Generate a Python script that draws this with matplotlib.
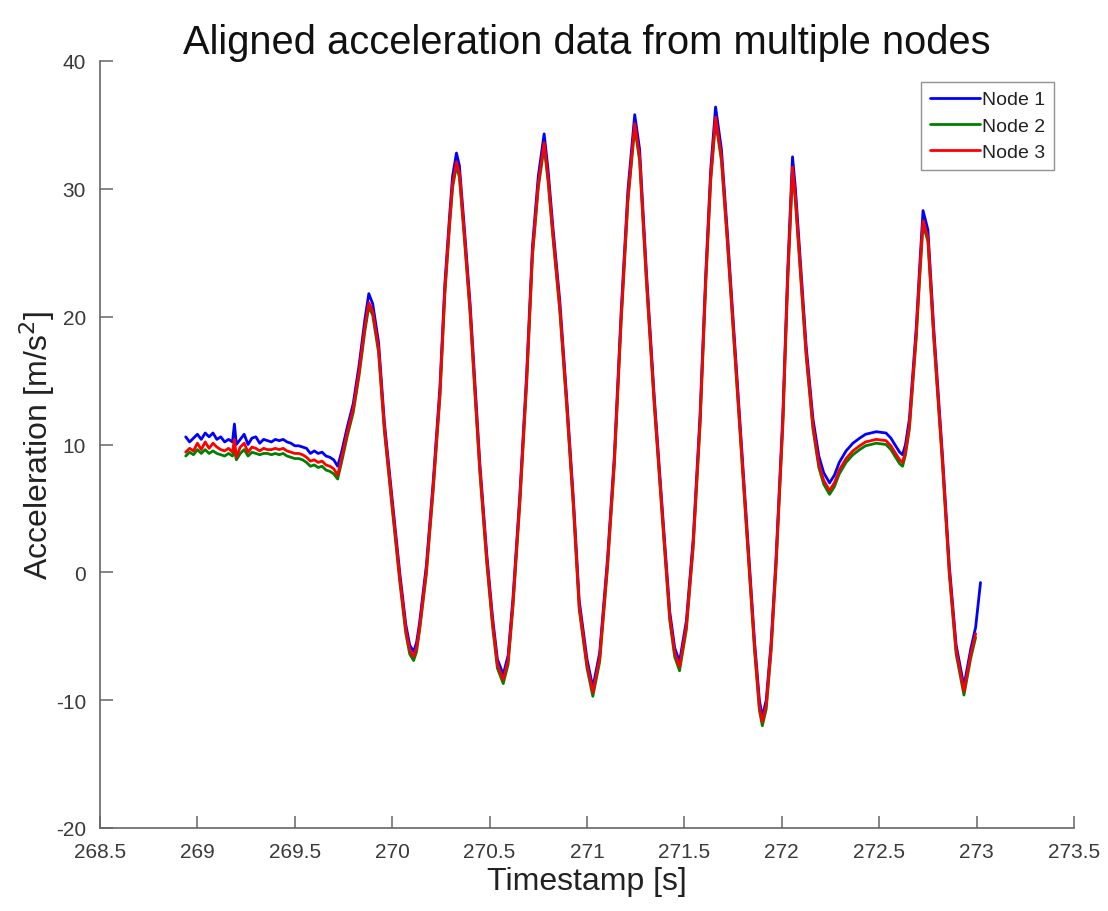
import numpy as np
import matplotlib
matplotlib.use("Agg")
import matplotlib.pyplot as plt

nan = np.nan

timestamp = [
    268.94, 268.96, 268.98, 269.00, 269.02, 269.04, 269.06, 269.08, 269.10, 269.12,
    269.14, 269.16, 269.18, 269.19, 269.20, 269.22, 269.24, 269.26, 269.28, 269.30,
    269.32, 269.34, 269.36, 269.38, 269.40, 269.42, 269.44, 269.46, 269.48, 269.50,
    269.52, 269.54, 269.56, 269.58, 269.60, 269.62, 269.64, 269.66, 269.68, 269.70,
    269.72, 269.74, 269.77, 269.80, 269.83, 269.86, 269.88, 269.90, 269.93, 269.96,
    270.00, 270.04, 270.07, 270.09, 270.11, 270.125, 270.14, 270.175, 270.21, 270.245,
    270.27, 270.295, 270.31, 270.33, 270.345, 270.37, 270.40, 270.425, 270.45, 270.485,
    270.515, 270.54, 270.57, 270.595, 270.62, 270.655, 270.69, 270.72, 270.75, 270.78,
    270.80, 270.825, 270.86, 270.895, 270.93, 270.96, 271.00, 271.03, 271.065, 271.105,
    271.14, 271.175, 271.21, 271.245, 271.27, 271.305, 271.345, 271.39, 271.425, 271.45,
    271.475, 271.51, 271.545, 271.58, 271.61, 271.635, 271.66, 271.69, 271.72, 271.755,
    271.79, 271.825, 271.86, 271.885, 271.90, 271.92, 271.945, 271.97, 272.005, 272.03,
    272.055, 272.07, 272.09, 272.125, 272.16, 272.19, 272.215, 272.245, 272.27, 272.295,
    272.33, 272.365, 272.40, 272.43, 272.485, 272.535, 272.56, 272.58, 272.605, 272.62,
    272.635, 272.655, 272.69, 272.71, 272.725, 272.75, 272.78, 272.825, 272.86, 272.895,
    272.935, 272.97, 272.995, 273.02,
]

node1 = [
    10.6, 10.2, 10.5, 10.8, 10.4, 10.9, 10.6, 10.9, 10.4, 10.6,
    10.2, 10.4, 10.2, 11.6, 10.0, 10.4, 10.8, 10.0, 10.5, 10.6,
    10.1, 10.4, 10.3, 10.2, 10.4, 10.3, 10.4, 10.2, 10.1, 9.9,
    9.9, 9.8, 9.7, 9.3, 9.5, 9.3, 9.4, 9.1, 9.0, 8.8,
    8.3, 9.4, 11.4, 13.2, 16.2, 19.8, 21.8, 21.0, 18.0, 11.7,
    5.7, -0.2, -4.1, -5.7, -6.2, -5.5, -4.0, 0.5, 7.0, 14.5,
    22.5, 28.0, 31.0, 32.8, 31.8, 27.0, 21.0, 14.7, 8.5, 1.5,
    -3.5, -6.8, -8.0, -6.5, -2.0, 6.0, 15.5, 25.5, 31.0, 34.3,
    31.5, 27.0, 21.3, 13.8, 5.8, -2.2, -6.8, -9.0, -6.3, 1.0,
    9.0, 20.3, 29.9, 35.8, 33.1, 23.5, 13.8, 4.2, -3.1, -5.9,
    -7.0, -3.8, 2.6, 12.2, 23.5, 31.5, 36.4, 33.1, 26.7, 18.7,
    10.6, 2.6, -5.4, -10.0, -11.3, -10.0, -5.5, 1.0, 12.2, 23.5,
    32.5, 30.0, 25.5, 17.7, 12.0, 9.1, 7.8, 7.0, 7.6, 8.6,
    9.5, 10.1, 10.5, 10.8, 11.0, 10.9, 10.5, 10.0, 9.4, 9.2,
    10.0, 12.0, 19.1, 24.5, 28.3, 26.8, 19.1, 9.1, 0.5, -5.7,
    -8.9, -6.0, -4.3, -0.8,
]

node2 = [
    9.1, 9.4, 9.2, 9.6, 9.3, 9.6, 9.3, 9.5, 9.3, 9.2,
    9.1, 9.3, 9.1, 9.6, 8.8, 9.3, 9.6, 9.1, 9.4, 9.3,
    9.2, 9.3, 9.3, 9.2, 9.3, 9.2, 9.3, 9.1, 9.0, 8.9,
    8.9, 8.8, 8.6, 8.3, 8.4, 8.2, 8.3, 8.0, 7.9, 7.7,
    7.3, 8.6, 10.7, 12.5, 15.4, 18.9, 20.8, 20.1, 17.2, 11.0,
    5.0, -0.9, -4.8, -6.4, -6.9, -6.2, -4.6, -0.2, 6.3, 13.7,
    21.7, 27.2, 30.1, 31.8, 30.9, 26.2, 20.2, 13.9, 7.8, 0.8,
    -4.2, -7.5, -8.7, -7.2, -2.7, 5.3, 14.7, 24.7, 30.1, 33.3,
    30.6, 26.2, 20.5, 13.1, 5.1, -2.9, -7.5, -9.7, -7.0, 0.3,
    8.3, 19.5, 29.0, 34.8, 32.2, 22.7, 13.1, 3.5, -3.8, -6.6,
    -7.7, -4.5, 1.9, 11.4, 22.7, 30.6, 35.3, 32.2, 25.9, 17.9,
    9.9, 1.9, -6.1, -10.8, -12.0, -10.7, -6.2, 0.3, 11.4, 22.6,
    31.4, 29.0, 24.6, 16.9, 11.2, 8.2, 6.9, 6.1, 6.7, 7.7,
    8.6, 9.2, 9.6, 9.9, 10.1, 10.0, 9.6, 9.1, 8.5, 8.3,
    9.2, 11.2, 18.3, 23.6, 27.2, 25.9, 18.3, 8.4, -0.2, -6.4,
    -9.6, -6.7, -5.1, nan,
]

node3 = [
    9.4, 9.7, 9.5, 10.1, 9.6, 10.2, 9.7, 10.1, 9.8, 9.6,
    9.5, 9.7, 9.4, 10.4, 9.0, 9.8, 10.1, 9.4, 9.8, 9.7,
    9.5, 9.7, 9.6, 9.6, 9.7, 9.6, 9.7, 9.5, 9.4, 9.3,
    9.3, 9.2, 9.0, 8.7, 8.8, 8.6, 8.7, 8.4, 8.3, 8.1,
    7.6, 8.9, 11.0, 12.8, 15.7, 19.2, 21.1, 20.4, 17.5, 11.3,
    5.3, -0.6, -4.5, -6.1, -6.6, -5.9, -4.4, 0.1, 6.6, 14.0,
    22.0, 27.5, 30.4, 32.1, 31.2, 26.5, 20.5, 14.2, 8.1, 1.1,
    -3.9, -7.2, -8.4, -6.9, -2.4, 5.6, 15.0, 25.0, 30.4, 33.6,
    30.9, 26.5, 20.8, 13.4, 5.4, -2.6, -7.2, -9.4, -6.7, 0.6,
    8.6, 19.8, 29.3, 35.1, 32.5, 23.0, 13.4, 3.8, -3.5, -6.3,
    -7.4, -4.2, 2.2, 11.7, 23.0, 30.9, 35.6, 32.5, 26.2, 18.2,
    10.2, 2.2, -5.8, -10.5, -11.7, -10.4, -5.9, 0.6, 11.7, 22.9,
    31.7, 29.3, 24.9, 17.2, 11.5, 8.5, 7.2, 6.4, 7.0, 8.0,
    8.9, 9.5, 9.9, 10.2, 10.4, 10.3, 9.9, 9.4, 8.8, 8.6,
    9.5, 11.5, 18.6, 23.9, 27.5, 26.2, 18.6, 8.7, 0.1, -6.1,
    -9.3, -6.4, -4.8, nan,
]

series_labels = ["Node 1", "Node 2", "Node 3"]
x_ticks = [268.5, 269, 269.5, 270, 270.5, 271, 271.5, 272, 272.5, 273, 273.5]
x_tick_labels = ["268.5", "269", "269.5", "270", "270.5", "271", "271.5", "272", "272.5", "273", "273.5"]
y_ticks = [-20, -10, 0, 10, 20, 30, 40]
y_tick_labels = ["-20", "-10", "0", "10", "20", "30", "40"]

plt.rcParams['font.family'] = ['Liberation Sans', 'DejaVu Sans']

fig = plt.figure(figsize=(11.08, 9.12), dpi=100)
ax = fig.add_axes([100/1108, (912-829)/912, 974/1108, 767/912])

colors = ["#0000ff", "#008000", "#ff0000"]
for vals, lab, col in zip([node1, node2, node3], series_labels, colors):
    ax.plot(timestamp, vals, color=col, lw=2.0, label=lab,
            solid_joinstyle='round', solid_capstyle='round')

ax.set_xlim(268.5, 273.5)
ax.set_ylim(-20, 40)
ax.set_xticks(x_ticks)
ax.set_xticklabels(x_tick_labels)
ax.set_yticks(y_ticks)
ax.set_yticklabels(y_tick_labels)

spine_col = "#666666"
for s in ["top", "right"]:
    ax.spines[s].set_visible(False)
for s in ["left", "bottom"]:
    ax.spines[s].set_color(spine_col)
    ax.spines[s].set_linewidth(1.2)
ax.tick_params(direction='in', length=9, width=1.1, color=spine_col,
               labelsize=15, labelcolor="#3a3a3a", pad=10)

ax.set_title("Aligned acceleration data from multiple nodes", fontsize=28.7,
             color="#111111", pad=6)
ax.set_xlabel("Timestamp [s]", fontsize=23, color="#222222", labelpad=4)
ax.set_ylabel("Acceleration [m/s$^2$]", fontsize=23, color="#222222", labelpad=-1)

leg = ax.legend(loc='upper right', bbox_to_anchor=(1054/1108, (912-83)/912),
                bbox_transform=fig.transFigure, fontsize=14,
                frameon=True, fancybox=False, edgecolor="#777777",
                handlelength=2.6, handletextpad=0.1, labelspacing=0.45,
                borderpad=0.45, borderaxespad=0.0)
leg.get_frame().set_linewidth(1.0)
for t in leg.get_texts():
    t.set_color("#222222")

fig.savefig("out.png", dpi=100, facecolor="white")
